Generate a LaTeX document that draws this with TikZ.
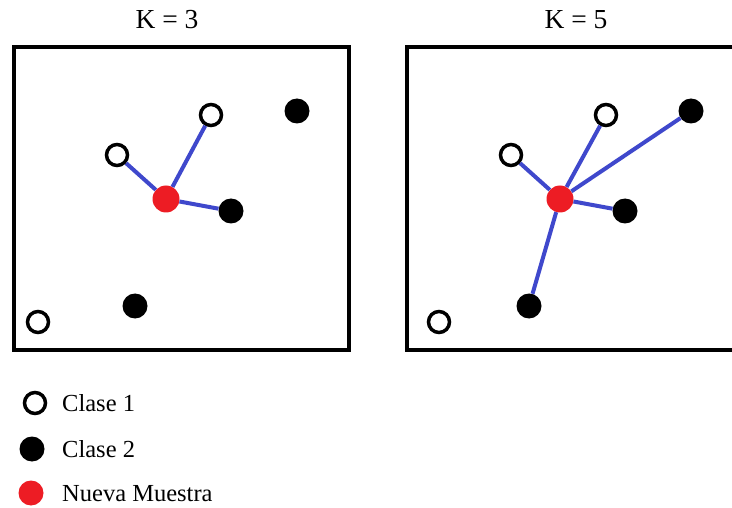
\documentclass[tikz,border=0pt]{standalone}
\usepackage{fontspec}
\setmainfont{Liberation Serif}
\definecolor{linkblue}{RGB}{63,72,204}
\definecolor{samplered}{RGB}{237,28,36}
\tikzset{
  x=1pt, y=-1pt,
  panel/.style={draw=black, line width=4pt},
  cls1/.style={circle, draw=black, fill=white, line width=3.5pt, minimum size=21pt, inner sep=0pt},
  cls2/.style={circle, fill=black, minimum size=25pt, inner sep=0pt},
  newpt/.style={circle, fill=samplered, minimum size=27pt, inner sep=0pt},
  link/.style={draw=linkblue, line width=4pt},
  title/.style={font=\fontsize{27.5}{30}\selectfont},
  legtext/.style={anchor=west, font=\fontsize{24.5}{27}\selectfont, inner sep=0pt}
}
\begin{document}
\begin{tikzpicture}
\useasboundingbox (0,0) rectangle (732,508);
\fill[white] (0,0) rectangle (732,508);
\begin{scope}
\clip (0,0) rectangle (732,508);
\draw[panel] (14,47) rectangle (349,350);
\draw[panel] (407,47) rectangle (742,350);
\end{scope}
\node[title] (t3) at (167,20) {K = 3};
\node[title] (t5) at (576,20) {K = 5};
% left panel
\node[newpt] (r) at (166,199) {};
\node[cls1] (a1) at (211,115) {};
\node[cls2] (b1) at (297,111) {};
\node[cls1] (a2) at (117,155) {};
\node[cls2] (b2) at (231,211) {};
\node[cls2] (b3) at (135,306) {};
\node[cls1] (a3) at (38,322) {};
\draw[link] (r) -- (a1);
\draw[link] (r) -- (a2);
\draw[link] (r) -- (b2);
% right panel
\node[newpt] (R) at (560,199) {};
\node[cls1] (A1) at (606,115) {};
\node[cls2] (B1) at (691,111) {};
\node[cls1] (A2) at (511,155) {};
\node[cls2] (B2) at (625,211) {};
\node[cls2] (B3) at (529,306) {};
\node[cls1] (A3) at (439,322) {};
\draw[link] (R) -- (A1);
\draw[link] (R) -- (A2);
\draw[link] (R) -- (B1);
\draw[link] (R) -- (B2);
\draw[link] (R) -- (B3);
% legend
\node[cls1] (l1) at (35,403) {};
\node[cls2] (l2) at (32,449) {};
\node[newpt, minimum size=25pt] (l3) at (31,493) {};
\node[legtext] (lt1) at (62,403) {Clase 1};
\node[legtext] (lt2) at (62,449) {Clase 2};
\node[legtext] (lt3) at (62,494) {Nueva Muestra};
\end{tikzpicture}
\end{document}
